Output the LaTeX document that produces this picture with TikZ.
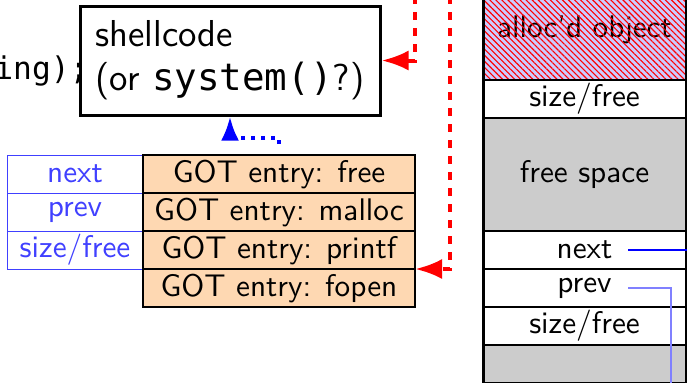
\documentclass[tikz,border=0pt]{standalone}
\usepackage{fontspec}
\newfontfamily\codefont{DejaVu Sans Mono}
\usetikzlibrary{arrows.meta,patterns.meta}
\definecolor{gotfill}{RGB}{254,216,178}
\definecolor{freegray}{RGB}{204,204,204}
\colorlet{listblue}{blue!75}
\begin{document}
\begin{tikzpicture}[x=0.32pt, y=-0.32pt,
  every node/.style={font=\sffamily\fontsize{10}{12}\selectfont, inner sep=0pt, outer sep=0pt},
  gotrow/.style={draw=black, line width=0.64pt, fill=gotfill, minimum width=87.04pt, minimum height=12.16pt},
  listrow/.style={draw=listblue, line width=0.32pt, text=listblue, minimum width=43.52pt, minimum height=12.16pt},
  heaprow/.style={draw=black, line width=0.64pt, minimum width=64.96pt, minimum height=12.16pt},
  freecell/.style={heaprow, fill=freegray},
  exploit/.style={red, line width=1.28pt, dash pattern=on 2.56pt off 2.56pt, -{Latex[length=8.64pt,width=6.4pt]}},
  hop/.style={blue, line width=1.28pt, dash pattern=on 1.28pt off 1.92pt, -{Latex[length=7.68pt,width=5.76pt]}},
  ptr/.style={blue, line width=0.48pt},
]
\useasboundingbox (0,0) rectangle (687,382);
\clip (0,0) rectangle (687,382);

% heap chunks, top to bottom
\node (alloc) [heaprow, fill=blue!20, minimum height=32pt] at (584.5,30) {alloc'd object};
\fill[pattern={Lines[angle=-45,distance=1.37pt,line width=0.36pt]}, pattern color=red]
  (alloc.north west) rectangle (alloc.south east);
\draw[line width=0.64pt] (alloc.north west) rectangle (alloc.south east);
\node (hsize1) [heaprow] at (584.5,99) {size/free};
\node (hfree) [freecell, minimum height=36.16pt] at (584.5,174.5) {free space};
\node (hnext) [heaprow] at (584.5,250) {next};
\node (hprev) [heaprow] at (584.5,288) {prev};
\node (hsize2) [heaprow] at (584.5,326) {size/free};
\node (hrest) [freecell] at (584.5,364) {};
\draw[line width=0.96pt] (alloc.north west) -- (hrest.south west);

% forward and back pointers of the free chunk
\coordinate (nextptr) at (628,250);
\coordinate (nextout) at (700,250);
\coordinate (prevptr) at (628,288);
\coordinate (prevdown) at (671,400);
\draw[ptr] (nextptr) -- (nextout);
\draw[ptr, blue!50] (prevptr) -| (prevdown);

% fake chunk header laid over the GOT
\node (lnext) [listrow] at (75,174) {next};
\node (lprev) [listrow] at (75,212) {prev};
\node (lsize) [listrow] at (75,250) {size/free};

% GOT entries
\node (gfree)   [gotrow] at (279,174) {GOT entry: free};
\node (gmalloc) [gotrow] at (279,212) {GOT entry: malloc};
\node (gprintf) [gotrow] at (279,250) {GOT entry: printf};
\node (gfopen)  [gotrow] at (279,288) {GOT entry: fopen};

% code fragment and the shellcode box
\node (codetail) [anchor=base east, font=\codefont\fontsize{10}{12}\selectfont] at (88.5,79) {ing);};
\node (shell) [draw, line width=0.96pt, fill=white, outer sep=0.48pt,
  minimum width=96pt, minimum height=34.88pt, align=left,
  font=\sffamily\fontsize{12}{14}\selectfont] at (230,60.5)
  {shellcode\\(or {\codefont system()}?)};

% control-flow arrows
\coordinate (hijack) at (415,-20);
\coordinate (overwrite) at (450,-20);
\draw[exploit] (hijack) |- (shell.east);
\draw[exploit] (overwrite) |- (gprintf.south east);
\coordinate (hopstart) at (279,144);
\draw[hop] (hopstart) -- ++(0,-6) -| (shell.south);
\end{tikzpicture}
\end{document}
